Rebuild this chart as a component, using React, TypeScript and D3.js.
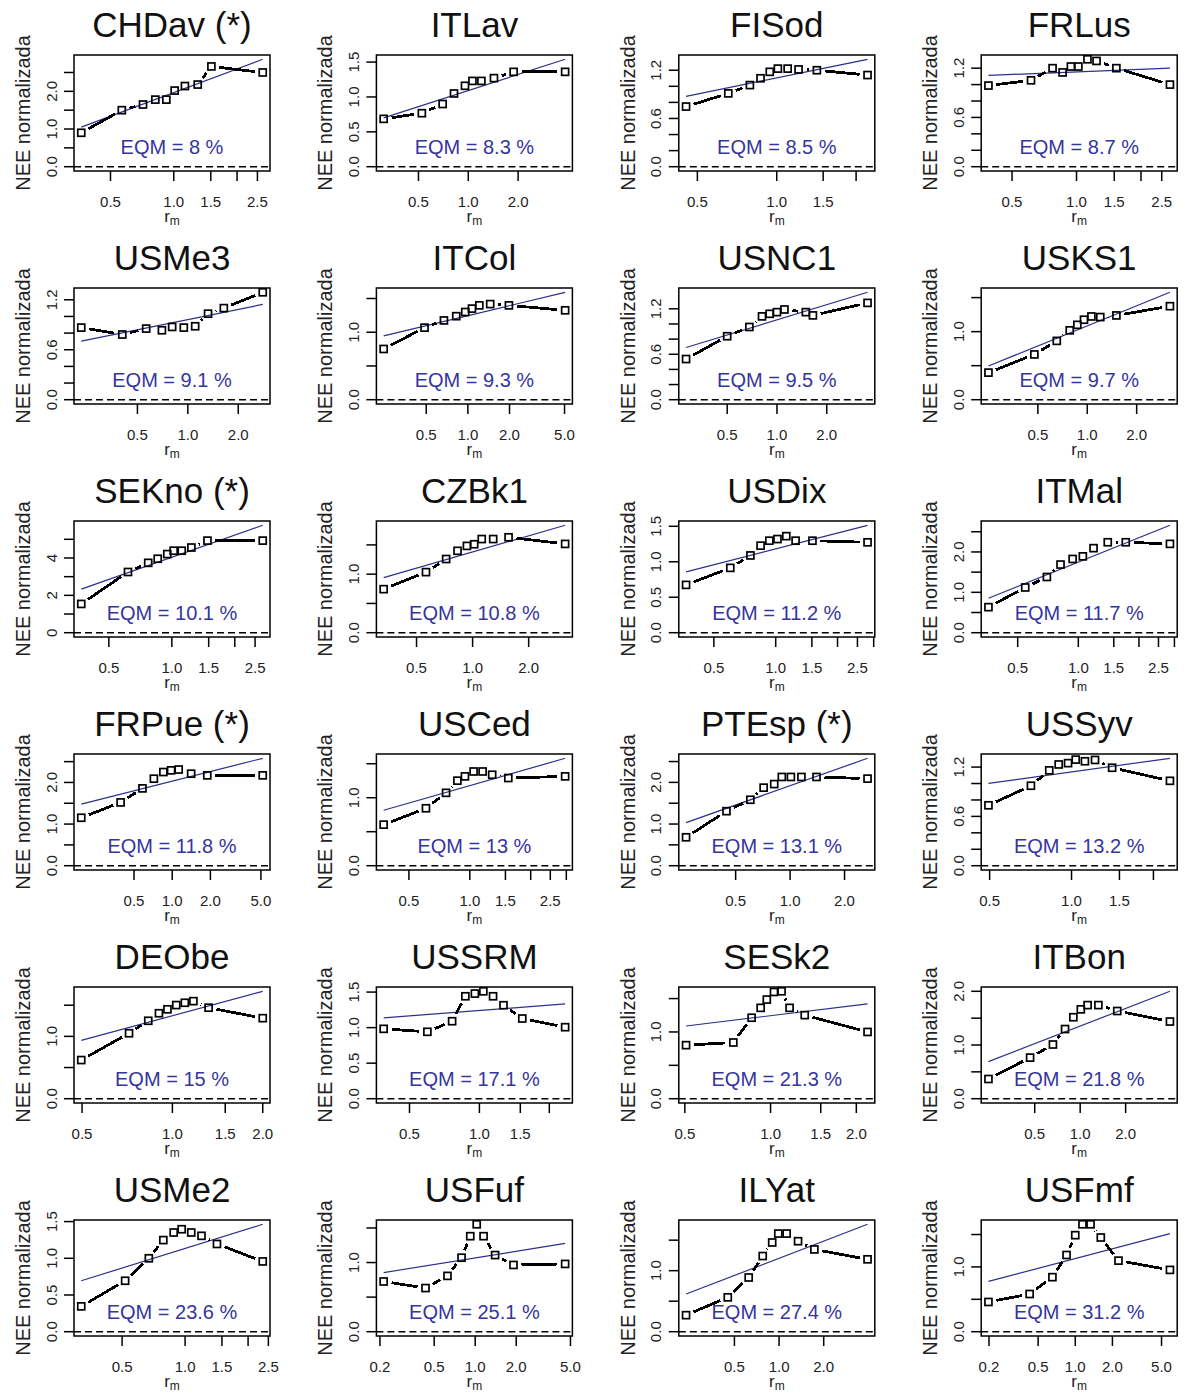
import React from "react";
import * as d3 from "d3";

// ---------- data ----------
const sites = [
  "CHDav (*)", "ITLav", "FISod", "FRLus",
  "USMe3", "ITCol", "USNC1", "USKS1",
  "SEKno (*)", "CZBk1", "USDix", "ITMal",
  "FRPue (*)", "USCed", "PTEsp (*)", "USSyv",
  "DEObe", "USSRM", "SESk2", "ITBon",
  "USMe2", "USFuf", "ILYat", "USFmf",
];

const eqm = [
  "8", "8.3", "8.5", "8.7", "9.1", "9.3", "9.5", "9.7",
  "10.1", "10.8", "11.2", "11.7", "11.8", "13", "13.1", "13.2",
  "15", "17.1", "21.3", "21.8", "23.6", "25.1", "27.4", "31.2",
];

// r_m (x) per site
const rmValues: number[][] = [
  [0.363, 0.566, 0.714, 0.817, 0.922, 1.01, 1.13, 1.30, 1.51, 2.65],
  [0.308, 0.524, 0.700, 0.820, 0.955, 1.06, 1.20, 1.43, 1.88, 3.85],
  [0.453, 0.655, 0.791, 0.868, 0.941, 1.01, 1.10, 1.21, 1.42, 2.21],
  [0.388, 0.613, 0.773, 0.861, 0.941, 1.02, 1.125, 1.24, 1.535, 2.73],
  [0.231, 0.406, 0.564, 0.700, 0.806, 0.946, 1.106, 1.32, 1.64, 2.80],
  [0.246, 0.486, 0.671, 0.824, 0.957, 1.07, 1.21, 1.45, 1.98, 5.05],
  [0.282, 0.50, 0.681, 0.812, 0.903, 1.0, 1.11, 1.495, 1.65, 3.53],
  [0.25, 0.476, 0.652, 0.782, 0.870, 0.955, 1.06, 1.20, 1.505, 3.19],
  [0.369, 0.617, 0.771, 0.856, 0.951, 1.02, 1.115, 1.24, 1.48, 2.72],
  [0.333, 0.562, 0.721, 0.83, 0.932, 1.02, 1.12, 1.29, 1.56, 3.14],
  [0.366, 0.601, 0.753, 0.844, 0.931, 1.02, 1.126, 1.25, 1.51, 2.80],
  [0.358, 0.545, 0.698, 0.816, 0.937, 1.053, 1.19, 1.40, 1.72, 2.85],
  [0.192, 0.392, 0.583, 0.717, 0.852, 0.98, 1.125, 1.41, 1.89, 5.17],
  [0.375, 0.607, 0.763, 0.868, 0.946, 1.044, 1.157, 1.29, 1.55, 2.96],
  [0.266, 0.445, 0.603, 0.714, 0.817, 0.90, 1.01, 1.155, 1.40, 2.68],
  [0.495, 0.709, 0.828, 0.897, 0.971, 1.036, 1.12, 1.22, 1.41, 2.30],
  [0.497, 0.717, 0.831, 0.902, 0.963, 1.03, 1.10, 1.175, 1.32, 2.0],
  [0.387, 0.597, 0.763, 0.87, 0.956, 1.04, 1.145, 1.27, 1.53, 2.34],
  [0.505, 0.74, 0.858, 0.923, 0.97, 1.028, 1.093, 1.166, 1.318, 2.19],
  [0.247, 0.466, 0.66, 0.794, 0.901, 1.01, 1.12, 1.32, 1.76, 3.93],
  [0.319, 0.517, 0.671, 0.787, 0.882, 0.963, 1.07, 1.198, 1.42, 2.35],
  [0.213, 0.432, 0.626, 0.794, 0.92, 1.026, 1.152, 1.40, 1.91, 4.57],
  [0.236, 0.451, 0.624, 0.776, 0.899, 0.988, 1.125, 1.343, 1.73, 3.95],
  [0.198, 0.427, 0.653, 0.85, 1.0, 1.144, 1.33, 1.61, 2.24, 5.85],
];

// normalised NEE (y) per site
const neeValues: number[][] = [
  [0.90, 1.50, 1.65, 1.78, 1.78, 2.02, 2.14, 2.18, 2.66, 2.50],
  [0.686, 0.767, 0.899, 1.05, 1.16, 1.23, 1.23, 1.27, 1.36, 1.36],
  [0.748, 0.912, 1.015, 1.10, 1.18, 1.22, 1.22, 1.21, 1.20, 1.14],
  [0.988, 1.052, 1.20, 1.148, 1.22, 1.22, 1.308, 1.288, 1.20, 1.00],
  [0.866, 0.783, 0.854, 0.834, 0.874, 0.866, 0.882, 1.033, 1.10, 1.29],
  [0.752, 1.068, 1.175, 1.238, 1.30, 1.35, 1.398, 1.417, 1.398, 1.325],
  [0.537, 0.838, 0.960, 1.10, 1.134, 1.156, 1.191, 1.156, 1.113, 1.278],
  [0.398, 0.665, 0.864, 1.019, 1.10, 1.175, 1.223, 1.214, 1.238, 1.374],
  [1.54, 3.25, 3.74, 3.96, 4.21, 4.39, 4.39, 4.56, 4.93, 4.93],
  [0.744, 1.035, 1.259, 1.399, 1.483, 1.511, 1.60, 1.60, 1.63, 1.517],
  [0.674, 0.914, 1.089, 1.227, 1.297, 1.32, 1.361, 1.297, 1.297, 1.274],
  [0.633, 1.12, 1.38, 1.688, 1.826, 1.891, 2.094, 2.24, 2.24, 2.20],
  [1.152, 1.52, 1.857, 2.09, 2.25, 2.29, 2.31, 2.21, 2.17, 2.17],
  [0.604, 0.845, 1.072, 1.251, 1.314, 1.386, 1.386, 1.338, 1.29, 1.314],
  [0.682, 1.309, 1.583, 1.873, 1.959, 2.13, 2.13, 2.13, 2.13, 2.09],
  [0.735, 0.973, 1.16, 1.232, 1.248, 1.291, 1.271, 1.287, 1.192, 1.033],
  [0.62, 1.05, 1.25, 1.371, 1.434, 1.502, 1.539, 1.565, 1.46, 1.292],
  [0.983, 0.941, 1.09, 1.441, 1.479, 1.511, 1.441, 1.315, 1.128, 1.006],
  [0.802, 0.842, 1.213, 1.361, 1.485, 1.599, 1.609, 1.361, 1.252, 1.0],
  [0.367, 0.765, 1.009, 1.297, 1.517, 1.664, 1.743, 1.743, 1.633, 1.437],
  [0.345, 0.694, 1.0, 1.248, 1.351, 1.396, 1.351, 1.306, 1.195, 0.957],
  [0.726, 0.631, 0.807, 1.07, 1.381, 1.553, 1.381, 1.108, 0.965, 0.98],
  [0.271, 0.563, 0.888, 1.24, 1.462, 1.608, 1.608, 1.483, 1.348, 1.186],
  [0.459, 0.582, 0.842, 1.184, 1.49, 1.658, 1.658, 1.454, 1.097, 0.954],
];

// fitted line: value at first and last r_m
const fitStart = [
  1.05, 0.70, 0.875, 1.112, 0.703, 0.947, 0.689, 0.495,
  2.33, 0.94, 0.858, 0.852, 1.48, 0.816, 1.034, 1.001,
  0.935, 1.137, 1.089, 0.691, 0.694, 0.855, 0.617, 0.776,
];
const fitEnd = [
  2.85, 1.54, 1.336, 1.20, 1.144, 1.592, 1.418, 1.578,
  5.75, 1.835, 1.514, 2.66, 2.58, 1.58, 2.578, 1.307,
  1.723, 1.334, 1.421, 2.0, 1.463, 1.276, 1.76, 1.515,
];

// x-axis ticks (all) and which ones carry a label
const xTickValues: number[][] = [
  [0.5, 1, 1.5, 2, 2.5], [0.5, 1, 2], [0.5, 1, 1.5, 2], [0.5, 1, 1.5, 2, 2.5, 3],
  [0.5, 1, 2], [0.5, 1, 2, 5], [0.5, 1, 2], [0.5, 1, 2],
  [0.5, 1, 1.5, 2, 2.5], [0.5, 1, 2], [0.5, 1, 1.5, 2, 2.5, 3], [0.5, 1, 1.5, 2, 2.5, 3],
  [0.5, 1, 2, 5], [0.5, 1, 1.5, 2, 2.5, 3], [0.5, 1, 2], [0.5, 1, 1.5, 2],
  [0.5, 1, 1.5, 2], [0.5, 1, 1.5, 2], [0.5, 1, 1.5, 2], [0.5, 1, 2],
  [0.5, 1, 1.5, 2, 2.5], [0.2, 0.5, 1, 2, 5], [0.5, 1, 2], [0.2, 0.5, 1, 2, 5],
];
const xTickLabels: string[][] = [
  ["0.5", "1.0", "1.5", "", "2.5"], ["0.5", "1.0", "2.0"], ["0.5", "1.0", "1.5", ""], ["0.5", "1.0", "1.5", "", "2.5", ""],
  ["0.5", "1.0", "2.0"], ["0.5", "1.0", "2.0", "5.0"], ["0.5", "1.0", "2.0"], ["0.5", "1.0", "2.0"],
  ["0.5", "1.0", "1.5", "", "2.5"], ["0.5", "1.0", "2.0"], ["0.5", "1.0", "1.5", "", "2.5", ""], ["0.5", "1.0", "1.5", "", "2.5", ""],
  ["0.5", "1.0", "2.0", "5.0"], ["0.5", "1.0", "1.5", "", "2.5", ""], ["0.5", "1.0", "2.0"], ["0.5", "1.0", "1.5", ""],
  ["0.5", "1.0", "1.5", "2.0"], ["0.5", "1.0", "1.5", ""], ["0.5", "1.0", "1.5", "2.0"], ["0.5", "1.0", "2.0"],
  ["0.5", "1.0", "1.5", "", "2.5"], ["0.2", "0.5", "1.0", "2.0", "5.0"], ["0.5", "1.0", "2.0"], ["0.2", "0.5", "1.0", "2.0", "5.0"],
];

// y-axis ticks (all) and labels
const yTicksHalf = [0, 0.5, 1, 1.5];
const yTicksHalf25 = [0, 0.5, 1, 1.5, 2, 2.5];
const yTicksFifth = [0, 0.2, 0.4, 0.6, 0.8, 1.0, 1.2];
const yTicksUnit = [0, 1, 2, 3, 4, 5];
const yTickValues: number[][] = [
  yTicksHalf25, yTicksHalf, yTicksFifth, yTicksFifth,
  yTicksFifth, yTicksHalf, yTicksFifth, yTicksHalf,
  yTicksUnit, yTicksHalf, yTicksHalf, yTicksHalf25,
  yTicksHalf25, yTicksHalf, yTicksHalf25, yTicksFifth,
  yTicksHalf, yTicksHalf, yTicksHalf, [0, 0.5, 1, 1.5, 2],
  yTicksHalf, yTicksHalf, yTicksHalf, yTicksHalf,
];
const lblHalfAll = ["0.0", "0.5", "1.0", "1.5"];
const lblHalfSparse = ["0.0", "", "1.0", ""];
const lbl25 = ["0.0", "", "1.0", "", "2.0", ""];
const lblFifth = ["0.0", "", "", "0.6", "", "", "1.2"];
const yTickLabels: string[][] = [
  lbl25, lblHalfAll, lblFifth, lblFifth,
  lblFifth, lblHalfSparse, lblFifth, lblHalfSparse,
  ["0", "", "2", "", "4", ""], lblHalfSparse, lblHalfAll, lbl25,
  lbl25, lblHalfSparse, lbl25, lblFifth,
  lblHalfSparse, lblHalfAll, lblHalfSparse, ["0.0", "", "1.0", "", "2.0"],
  lblHalfAll, lblHalfSparse, lblHalfSparse, lblHalfSparse,
];

// ---------- layout ----------
const W = 1192;
const H = 1394;
const COL_LEFT = 74;
const COL_STEP = 302.4;
const ROW_TOP = 55;
const ROW_STEP = 233;
const BOX_W = 196;
const BOX_H = 116;
const FONT = "'Liberation Sans', Arial, Helvetica, sans-serif";
const BLUE_TEXT = "#35359e";
const BLUE_LINE = "#2e2e8c";

function Panel({ i }: { i: number }) {
  const col = i % 4;
  const row = Math.floor(i / 4);
  const x0 = COL_LEFT + col * COL_STEP;
  const y0 = ROW_TOP + row * ROW_STEP;
  const xs = rmValues[i];
  const ys = neeValues[i];

  const lx = (d3.extent(xs) as [number, number]).map(Math.log);
  const pad = 0.04 * (lx[1] - lx[0]);
  const x = d3
    .scaleLog()
    .domain([Math.exp(lx[0] - pad), Math.exp(lx[1] + pad)])
    .range([x0, x0 + BOX_W]);
  const ymax = Math.max(d3.max(ys) as number, fitStart[i], fitEnd[i]);
  const y = d3
    .scaleLinear()
    .domain([-0.04 * ymax, 1.04 * ymax])
    .range([y0 + BOX_H, y0]);

  const pts = xs.map((v, k) => [x(v), y(ys[k])] as [number, number]);
  const GAP = 8;
  const segs: string[] = [];
  for (let k = 0; k < pts.length - 1; k++) {
    const [ax, ay] = pts[k];
    const [bx, by] = pts[k + 1];
    const d = Math.hypot(bx - ax, by - ay);
    if (d <= 2 * GAP) continue;
    const ux = (bx - ax) / d;
    const uy = (by - ay) / d;
    segs.push(
      `M${ax + ux * GAP},${ay + uy * GAP}L${bx - ux * GAP},${by - uy * GAP}`
    );
  }

  const fitLine = d3
    .line<[number, number]>()
    .x((d) => x(d[0]))
    .y((d) => y(d[1]))([
    [xs[0], fitStart[i]],
    [xs[xs.length - 1], fitEnd[i]],
  ]);

  const cx = x0 + BOX_W / 2;
  const xt = xTickValues[i].filter((v) => v >= x.domain()[0] && v <= x.domain()[1] * 1.001);

  return (
    <g>
      <text x={cx} y={y0 - 18.5} fontSize={35} textAnchor="middle" fill="#111">
        {sites[i]}
      </text>
      {/* zero reference line */}
      <line
        x1={x0}
        x2={x0 + BOX_W}
        y1={y(0)}
        y2={y(0)}
        stroke="#000"
        strokeWidth={1.5}
        strokeDasharray="7,4"
      />
      {/* fitted line */}
      <path d={fitLine || ""} fill="none" stroke={BLUE_LINE} strokeWidth={1.2} />
      {/* data line (type b) */}
      <path
        d={segs.join("")}
        fill="none"
        stroke="#000"
        strokeWidth={2.8}
        shapeRendering="crispEdges"
      />
      {pts.map(([px, py], k) => (
        <rect
          key={k}
          x={px - 3.5}
          y={py - 3.5}
          width={7}
          height={7}
          fill="none"
          stroke="#000"
          strokeWidth={1.7}
        />
      ))}
      <text x={cx} y={y0 + 99} fontSize={20} textAnchor="middle" fill={BLUE_TEXT}>
        {`EQM = ${eqm[i]} %`}
      </text>
      {/* box */}
      <rect x={x0} y={y0} width={BOX_W} height={BOX_H} fill="none" stroke="#000" strokeWidth={1.5} />
      {/* x axis */}
      {xt.map((v) => {
        const k = xTickValues[i].indexOf(v);
        const lbl = xTickLabels[i][k];
        return (
          <g key={`x${v}`}>
            <line x1={x(v)} x2={x(v)} y1={y0 + BOX_H} y2={y0 + BOX_H + 10} stroke="#000" strokeWidth={1.5} />
            {lbl ? (
              <text x={x(v)} y={y0 + BOX_H + 35.5} fontSize={15} textAnchor="middle" fill="#222">
                {lbl}
              </text>
            ) : null}
          </g>
        );
      })}
      <text x={cx} y={y0 + BOX_H + 51} fontSize={17} textAnchor="middle" fill="#222">
        r
        <tspan dy={3} fontSize={12}>
          m
        </tspan>
      </text>
      {/* y axis */}
      {yTickValues[i].map((v, k) => {
        const lbl = yTickLabels[i][k];
        const py = y(v);
        return (
          <g key={`y${v}`}>
            <line x1={x0 - 10} x2={x0} y1={py} y2={py} stroke="#000" strokeWidth={1.5} />
            {lbl ? (
              <text
                transform={`translate(${x0 - 23},${py}) rotate(-90)`}
                fontSize={15}
                textAnchor="middle"
                dominantBaseline="central"
                fill="#222"
              >
                {lbl}
              </text>
            ) : null}
          </g>
        );
      })}
      <text
        transform={`translate(${x0 - 51},${y0 + BOX_H / 2}) rotate(-90)`}
        fontSize={20}
        textAnchor="middle"
        dominantBaseline="central"
        fill="#222"
      >
        NEE normalizada
      </text>
    </g>
  );
}

export default function App() {
  return (
    <svg
      width={W}
      height={H}
      viewBox={`0 0 ${W} ${H}`}
      style={{ position: "absolute", left: 0, top: 0, background: "#fff" }}
      fontFamily={FONT}
    >
      <rect x={0} y={0} width={W} height={H} fill="#fff" />
      {sites.map((_, i) => (
        <Panel key={i} i={i} />
      ))}
    </svg>
  );
}
